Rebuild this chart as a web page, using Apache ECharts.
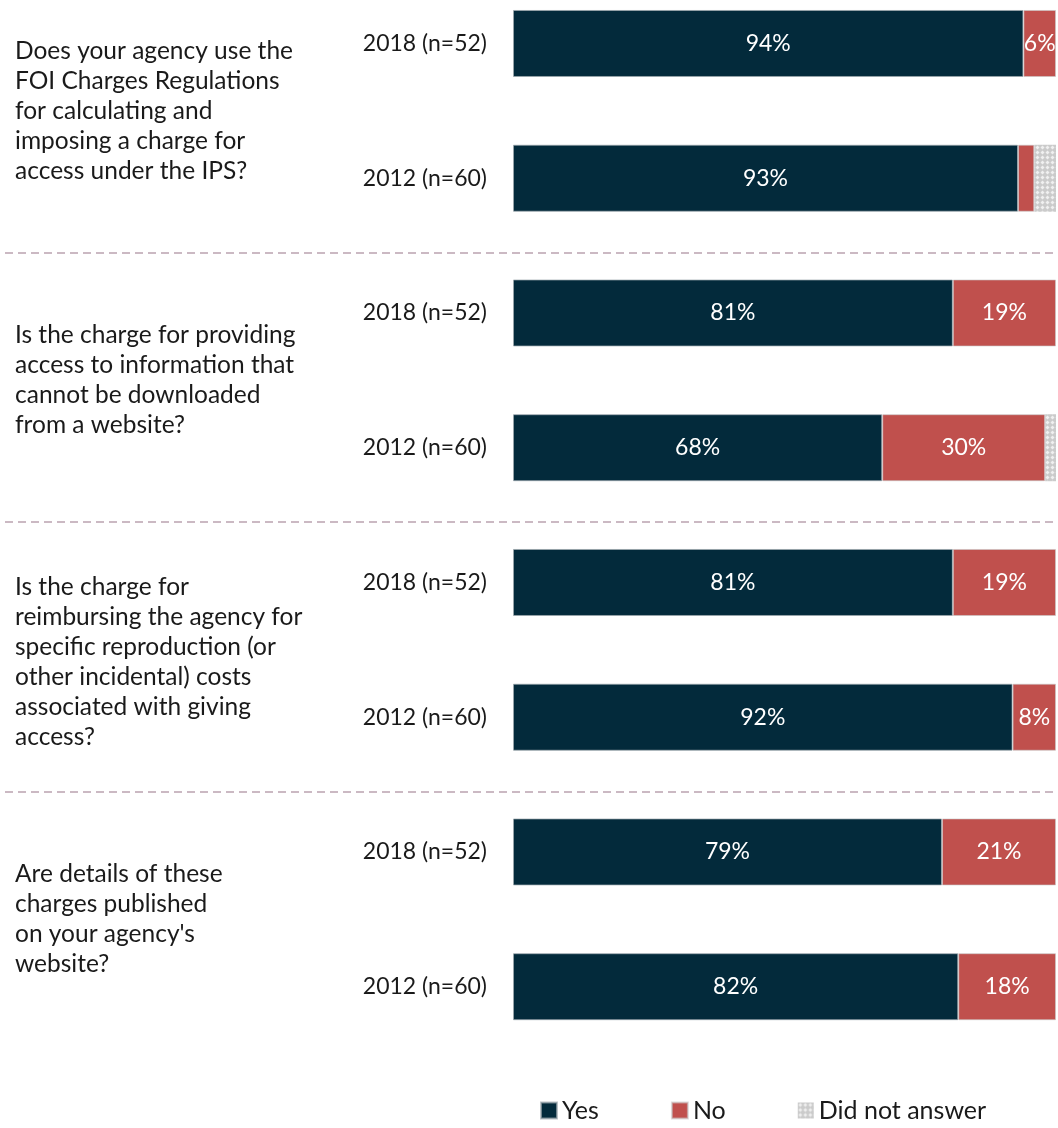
<!DOCTYPE html>
<html>
<head>
<meta charset="utf-8">
<script src="https://cdn.jsdelivr.net/npm/echarts@6/dist/echarts.min.js"></script>
<style>
  html, body { margin: 0; padding: 0; background: #ffffff; }
  #chart { width: 1058px; height: 1128px; }
</style>
</head>
<body>
<div id="chart"></div>
<script>
// Survey questions (one per group of two bars)
const questions = [
  'Does your agency use the\nFOI Charges Regulations\nfor calculating and\nimposing a charge for\naccess under the IPS?',
  'Is the charge for providing\naccess to information that\ncannot be downloaded\nfrom a website?',
  'Is the charge for\nreimbursing the agency for\nspecific reproduction (or\nother incidental) costs\nassociated with giving\naccess?',
  'Are details of these\ncharges published\non your agency\'s\nwebsite?'
];

// One row per survey year within each question, top to bottom
const years = [
  '2018 (n=52)', '2012 (n=60)',
  '2018 (n=52)', '2012 (n=60)',
  '2018 (n=52)', '2012 (n=60)',
  '2018 (n=52)', '2012 (n=60)'
];

// Share of agencies answering (%)
const yesValues = [94, 93, 81, 68, 81, 92, 79, 82];
const noValues  = [6, 3, 19, 30, 19, 8, 21, 18];
const dnaValues = [0, 4, 0, 2, 0, 0, 0, 0];

const seriesNames = ['Yes', 'No', 'Did not answer'];

const FONT = 'Lato';
const TEXT = '#1a1a1a';
const NAVY = '#032a3b';
const RED = '#c0504d';
const GREY = '#cbcbcb';

// Row band layout shared by the bar grid and the question grid
const ROW_TOP = -23.9;
const ROW_HEIGHT = 1078;
// Extra space (px) above each question's text block, pushing it down by half
const questionLead = [0, 0, 24, 0];

const chart = echarts.init(document.getElementById('chart'), null, { renderer: 'canvas' });

const barLabel = {
  show: true,
  position: 'inside',
  color: '#ffffff',
  fontFamily: FONT,
  fontSize: 23,
  formatter: p => (p.value >= 5 ? p.value + '%' : '')
};

const option = {
  backgroundColor: '#ffffff',
  animation: false,
  legend: {
    data: seriesNames,
    left: 535,
    top: 1093,
    itemWidth: 16,
    itemHeight: 16,
    itemGap: 72,
    icon: 'rect',
    textStyle: { fontFamily: FONT, fontSize: 25, color: TEXT }
  },
  grid: [
    // bars
    { left: 513, right: 2, top: ROW_TOP, height: ROW_HEIGHT, outerBoundsMode: 'none' },
    // question text
    { left: 15, width: 330, top: ROW_TOP, height: ROW_HEIGHT, outerBoundsMode: 'none' },
    // dashed separators between questions
    { left: 5, right: 1, top: ROW_TOP + 7, height: ROW_HEIGHT, outerBoundsMode: 'none' }
  ],
  xAxis: [
    { gridIndex: 0, type: 'value', min: 0, max: 100, show: false },
    { gridIndex: 1, type: 'value', min: 0, max: 1, show: false },
    { gridIndex: 2, type: 'value', min: 0, max: 1, show: false }
  ],
  yAxis: [
    {
      gridIndex: 0,
      type: 'category',
      inverse: true,
      data: years,
      axisLine: { show: false },
      axisTick: { show: false },
      splitLine: { show: false },
      axisLabel: {
        margin: 26,
        fontFamily: FONT,
        fontSize: 23,
        color: TEXT
      }
    },
    {
      gridIndex: 1,
      type: 'category',
      inverse: true,
      data: questions,
      axisLine: { show: false },
      axisTick: { show: false },
      splitLine: { show: false },
      axisLabel: {
        inside: true,
        margin: 0,
        align: 'left',
        fontFamily: FONT,
        fontSize: 24.5,
        lineHeight: 30,
        color: TEXT,
        formatter: (value, index) => {
          const lead = questionLead[index];
          return lead > 0 ? '{lead| }\n' + value : value;
        },
        rich: {
          lead: { fontSize: 2, lineHeight: 24 }
        }
      }
    },
    {
      gridIndex: 2,
      type: 'category',
      inverse: true,
      data: questions,
      axisLine: { show: false },
      axisTick: { show: false },
      axisLabel: { show: false },
      splitLine: {
        show: true,
        showMinLine: false,
        showMaxLine: false,
        lineStyle: { color: '#cbb9c3', width: 2, type: [8, 5] }
      }
    }
  ],
  series: [
    {
      name: 'Yes',
      type: 'bar',
      stack: 'answers',
      xAxisIndex: 0,
      yAxisIndex: 0,
      barWidth: 67,
      data: yesValues,
      itemStyle: { color: NAVY, borderColor: 'rgba(160,170,175,0.7)', borderWidth: 1 },
      label: barLabel
    },
    {
      name: 'No',
      type: 'bar',
      stack: 'answers',
      xAxisIndex: 0,
      yAxisIndex: 0,
      barWidth: 67,
      data: noValues,
      itemStyle: { color: RED, borderColor: 'rgba(200,200,200,0.6)', borderWidth: 1 },
      label: barLabel
    },
    {
      name: 'Did not answer',
      type: 'bar',
      stack: 'answers',
      xAxisIndex: 0,
      yAxisIndex: 0,
      barWidth: 67,
      data: dnaValues,
      itemStyle: {
        color: GREY,
        decal: {
          symbol: 'diamond',
          symbolSize: 0.8,
          color: 'rgba(255,255,255,0.7)',
          dashArrayX: [[5, 0]],
          dashArrayY: [5, 0]
        }
      },
      label: { show: false }
    }
  ]
};

chart.setOption(option);
</script>
</body>
</html>
